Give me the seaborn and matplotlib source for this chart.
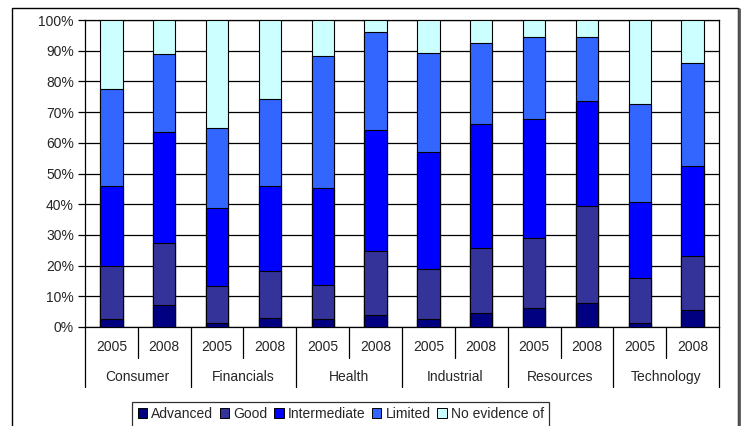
import numpy as np
import pandas as pd
import seaborn as sns
import matplotlib
matplotlib.use("Agg")
import matplotlib.pyplot as plt
from matplotlib.patches import Patch, Rectangle
from matplotlib.lines import Line2D
from matplotlib.transforms import blended_transform_factory

# Share of companies at each level, per sector and year (percent)
sectors = ["Consumer", "Financials", "Health", "Industrial", "Resources", "Technology"]
years = ["2005", "2008"]
levels = ["Advanced", "Good", "Intermediate", "Limited", "No evidence of"]
colors = ["#000080", "#333399", "#0000FF", "#3366FF", "#CCFFFF"]

advanced = [2.5, 7.1, 1.2, 2.8, 2.5, 3.9, 2.5, 4.6, 6.1, 7.8, 1.4, 5.6]
good = [17.4, 20.4, 12.0, 15.4, 11.1, 20.7, 16.3, 21.0, 22.8, 31.5, 14.7, 17.5]
intermediate = [26.1, 35.9, 25.7, 27.8, 31.8, 39.7, 38.3, 40.4, 39.0, 34.3, 24.5, 29.3]
limited = [31.4, 25.5, 26.0, 28.3, 42.8, 31.8, 32.3, 26.4, 26.7, 21.0, 31.9, 33.7]
no_evidence = [22.6, 11.1, 35.1, 25.7, 11.8, 3.9, 10.6, 7.6, 5.4, 5.4, 27.5, 13.9]

yticks = list(range(0, 101, 10))

FS = 10
sns.set_theme(style="white")
plt.rcParams["font.family"] = ["Liberation Sans", "DejaVu Sans"]
plt.rcParams["font.size"] = FS

bars = [f"{s} {y}" for s in sectors for y in years]
df = pd.DataFrame({"bar": bars})
series = [advanced, good, intermediate, limited, no_evidence]
cum = np.cumsum(np.array(series), axis=0)
for lvl, vals in zip(levels, cum):
    df[lvl] = vals

fig = plt.figure(figsize=(7.42, 4.26), dpi=100)
W, H = 742, 426
ax = fig.add_axes([85 / W, (H - 327) / H, (719 - 85) / W, (327 - 20) / H])

# stacked bars: draw cumulative totals from the top level down
for lvl, col in reversed(list(zip(levels, colors))):
    sns.barplot(data=df, x="bar", y=lvl, order=bars, color=col, saturation=1,
                width=0.42, edgecolor="black", linewidth=0.8, ax=ax, zorder=3)

ax.set_xlim(-0.5, len(bars) - 0.5)
ax.set_ylim(0, 100)
ax.set_yticks(yticks)
ax.set_yticklabels([f"{v}%" for v in yticks])
ax.set_xticks([])
ax.set_xlabel("")
ax.set_ylabel("")
ax.yaxis.grid(True, color="black", linewidth=0.9)
ax.set_axisbelow(True)
ax.tick_params(axis="y", which="major", direction="out", length=5, width=0.9,
               color="black", labelsize=FS, pad=3, left=True)
for sp in ax.spines.values():
    sp.set_color("black")
    sp.set_linewidth(0.9)

# two-level category axis beneath the bars
tr = blended_transform_factory(ax.transData, ax.transAxes)
for b in range(len(bars) + 1):
    x = b - 0.5
    y_end = -0.194 if b % 2 == 0 else -0.10
    ax.add_line(Line2D([x, x], [0, y_end], transform=tr, color="black",
                       linewidth=0.9, clip_on=False))
for i, label in enumerate(bars):
    ax.text(i, -0.064, label.split()[1], transform=tr, ha="center", va="center",
            fontsize=FS)
for j, s in enumerate(sectors):
    ax.text(2 * j + 0.5, -0.164, s, transform=tr, ha="center", va="center",
            fontsize=FS)

handles = [Patch(facecolor=c, edgecolor="black", linewidth=0.7) for c in colors]
leg = fig.legend(handles, levels, loc="upper left",
                 bbox_to_anchor=(132 / W, (H - 401.5) / H), ncol=5,
                 frameon=True, fancybox=False, shadow=False, fontsize=FS,
                 handlelength=0.7, handleheight=0.7, handletextpad=0.3,
                 columnspacing=0.45, borderpad=0.4, borderaxespad=0)
leg.get_frame().set_edgecolor("black")
leg.get_frame().set_linewidth(0.9)

# chart area frame
fig.patches.append(Rectangle((12 / W, -0.05), (738 - 12) / W, (H - 8) / H + 0.05,
                             transform=fig.transFigure, fill=False,
                             edgecolor="black", linewidth=1.0))
fig.lines.append(Line2D([739 / W, 739 / W], [-0.05, (H - 9) / H],
                        transform=fig.transFigure, color="#555555", linewidth=2.0))

fig.savefig("out.png", dpi=100)
